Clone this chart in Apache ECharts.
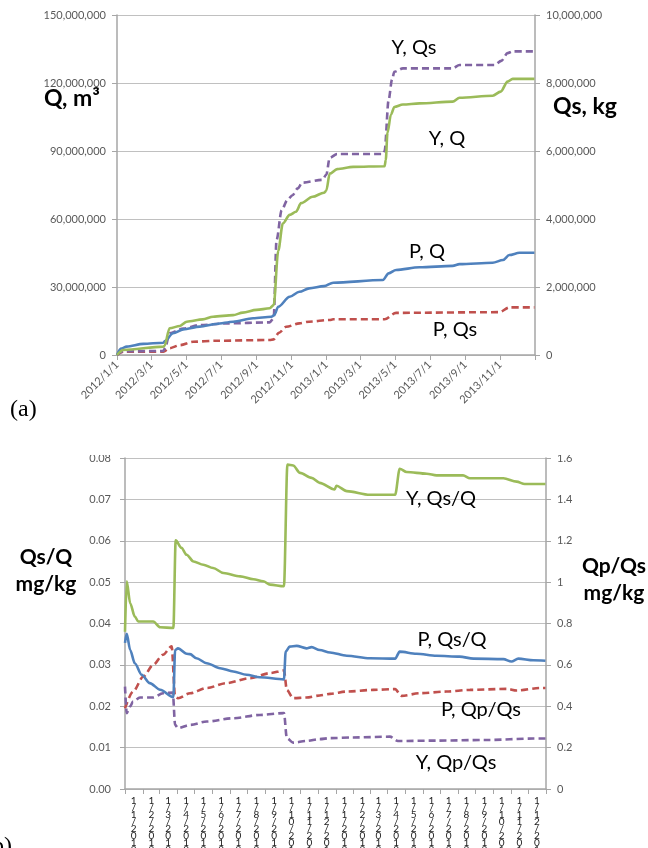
<!DOCTYPE html>
<html><head><meta charset="utf-8">
<script src="https://cdn.jsdelivr.net/npm/echarts@6/dist/echarts.min.js"></script>
<style>html,body{margin:0;padding:0;background:#fff}#c{width:648px;height:848px}</style>
</head><body><div id="c"></div>
<script>
// ---------- chart (a) data ----------
const topTickLabels = ['2012/1/1','2012/3/1','2012/5/1','2012/7/1','2012/9/1','2012/11/1','2013/1/1','2013/3/1','2013/5/1','2013/7/1','2013/9/1','2013/11/1'];
const topEndTick = '2014/1/1';

const yQ = [['2012-01-01',0],['2012-01-12',2.2e6],['2012-03-22',3.7e6],['2012-03-24',4.0e6],['2012-04-02',11.8e6],['2012-04-20',12.8e6],['2012-05-02',14.7e6],['2012-05-30',15.7e6],['2012-06-17',16.9e6],['2012-07-22',17.6e6],['2012-08-08',18.7e6],['2012-09-01',19.9e6],['2012-09-24',20.6e6],['2012-10-01',22e6],['2012-10-09',46e6],['2012-10-17',58e6],['2012-10-29',61.8e6],['2012-11-09',63.2e6],['2012-11-18',67e6],['2012-12-08',69.8e6],['2012-12-28',71.6e6],['2013-01-01',72.5e6],['2013-01-07',80e6],['2013-01-20',82e6],['2013-02-17',83e6],['2013-04-13',83.3e6],['2013-04-15',86e6],['2013-04-18',98e6],['2013-04-24',106e6],['2013-04-30',109.4e6],['2013-05-15',110.5e6],['2013-06-13',111e6],['2013-08-10',111.8e6],['2013-08-22',113.5e6],['2013-10-19',114.4e6],['2013-11-02',116.2e6],['2013-11-14',120.6e6],['2013-11-23',121.8e6],['2013-12-31',121.8e6]];

const pQ = [['2012-01-01',0],['2012-01-08',2.8e6],['2012-01-18',3.7e6],['2012-02-16',4.9e6],['2012-03-22',5.4e6],['2012-03-25',6.2e6],['2012-04-08',9.6e6],['2012-04-26',11.3e6],['2012-05-25',12.5e6],['2012-06-23',13.7e6],['2012-07-22',14.7e6],['2012-08-26',16.2e6],['2012-09-27',16.9e6],['2012-10-02',17.6e6],['2012-10-09',21.3e6],['2012-10-29',25.7e6],['2012-11-15',27.9e6],['2012-12-02',29.4e6],['2012-12-28',30.4e6],['2013-01-13',31.9e6],['2013-04-10',33.1e6],['2013-04-20',36e6],['2013-05-03',37.5e6],['2013-06-13',38.7e6],['2013-08-10',39.3e6],['2013-08-22',40.1e6],['2013-10-19',40.7e6],['2013-11-06',41.9e6],['2013-11-17',44.1e6],['2013-12-05',45.1e6],['2013-12-31',45.1e6]];

const yQs = [['2012-01-01',0],['2012-01-12',0.11e6],['2012-03-22',0.12e6],['2012-03-25',0.2e6],['2012-04-02',0.64e6],['2012-04-26',0.78e6],['2012-05-25',0.88e6],['2012-07-10',0.93e6],['2012-09-24',0.96e6],['2012-10-01',1.08e6],['2012-10-06',3.38e6],['2012-10-15',4.26e6],['2012-10-25',4.56e6],['2012-11-03',4.7e6],['2012-11-12',4.9e6],['2012-11-20',5.07e6],['2012-12-25',5.15e6],['2013-01-01',5.3e6],['2013-01-07',5.8e6],['2013-01-20',5.91e6],['2013-04-10',5.91e6],['2013-04-13',6.0e6],['2013-04-20',7.5e6],['2013-04-26',8.1e6],['2013-04-30',8.33e6],['2013-05-15',8.43e6],['2013-08-10',8.43e6],['2013-08-22',8.53e6],['2013-10-22',8.53e6],['2013-11-03',8.65e6],['2013-11-14',8.88e6],['2013-11-23',8.93e6],['2013-12-31',8.93e6]];

const pQs = [['2012-01-01',0],['2012-01-12',0.1e6],['2012-03-22',0.1e6],['2012-04-02',0.2e6],['2012-04-20',0.29e6],['2012-05-13',0.39e6],['2012-06-23',0.42e6],['2012-09-24',0.44e6],['2012-10-01',0.46e6],['2012-10-10',0.65e6],['2012-10-23',0.83e6],['2012-11-15',0.93e6],['2012-12-02',0.98e6],['2013-01-07',1.03e6],['2013-01-13',1.05e6],['2013-04-13',1.05e6],['2013-05-03',1.24e6],['2013-10-31',1.26e6],['2013-11-17',1.40e6],['2013-12-31',1.40e6]];

// ---------- chart (b) data ----------
const bottomMonthLabels = ['1/1/2012','1/2/2012','1/3/2012','1/4/2012','1/5/2012','1/6/2012','1/7/2012','1/8/2012','1/9/2012','1/10/2012','1/11/2012','1/12/2012','1/1/2013','1/2/2013','1/3/2013','1/4/2013','1/5/2013','1/6/2013','1/7/2013','1/8/2013','1/9/2013','1/10/2013','1/11/2013','1/12/2013'];

const yRatio = [['2012-01-01',0.038],['2012-01-04',0.0502],['2012-01-10',0.0449],['2012-01-18',0.0417],['2012-01-24',0.0405],['2012-02-19',0.0405],['2012-03-02',0.0391],['2012-03-25',0.0389],['2012-03-29',0.0601],['2012-04-08',0.0583],['2012-04-17',0.0566],['2012-04-29',0.055],['2012-05-16',0.0542],['2012-06-02',0.0534],['2012-06-20',0.0522],['2012-07-19',0.0514],['2012-08-11',0.0507],['2012-08-28',0.0502],['2012-09-09',0.0494],['2012-10-03',0.049],['2012-10-09',0.0784],['2012-10-19',0.0782],['2012-10-31',0.0764],['2012-11-20',0.0752],['2012-12-04',0.0740],['2012-12-30',0.0724],['2013-01-02',0.0733],['2013-01-20',0.0720],['2013-03-01',0.0711],['2013-04-14',0.0711],['2013-04-22',0.0774],['2013-05-04',0.0766],['2013-06-08',0.0762],['2013-06-25',0.0758],['2013-08-10',0.0758],['2013-08-22',0.0751],['2013-10-19',0.0751],['2013-11-11',0.0743],['2013-11-25',0.0737],['2013-12-31',0.0737]];

const pRatio = [['2012-01-01',0.0353],['2012-01-04',0.0375],['2012-01-10',0.0336],['2012-01-18',0.0304],['2012-01-30',0.0276],['2012-02-13',0.0256],['2012-03-02',0.024],['2012-03-25',0.0222],['2012-03-28',0.0336],['2012-04-02',0.034],['2012-04-17',0.0327],['2012-04-23',0.0326],['2012-05-04',0.0316],['2012-05-22',0.0304],['2012-06-14',0.0292],['2012-07-07',0.0284],['2012-07-30',0.0276],['2012-08-22',0.027],['2012-10-03',0.0265],['2012-10-06',0.0332],['2012-10-13',0.0344],['2012-10-25',0.0346],['2012-11-11',0.034],['2012-11-20',0.0343],['2012-12-04',0.0336],['2012-12-22',0.033],['2013-01-20',0.0322],['2013-03-01',0.0316],['2013-04-14',0.0315],['2013-04-22',0.0332],['2013-05-21',0.0327],['2013-06-25',0.0322],['2013-08-04',0.032],['2013-08-28',0.0315],['2013-10-19',0.0314],['2013-11-02',0.0308],['2013-11-14',0.0315],['2013-12-10',0.0311],['2013-12-31',0.031]];

const pQpQs = [['2012-01-01',0.39],['2012-01-15',0.471],['2012-02-02',0.544],['2012-02-19',0.60],['2012-03-07',0.649],['2012-03-22',0.69],['2012-03-28',0.447],['2012-04-02',0.439],['2012-04-23',0.463],['2012-05-22',0.488],['2012-06-25',0.512],['2012-08-05',0.536],['2012-09-09',0.56],['2012-10-03',0.573],['2012-10-08',0.479],['2012-10-19',0.439],['2012-11-11',0.442],['2012-12-04',0.452],['2012-12-22',0.46],['2013-01-20',0.471],['2013-03-07',0.479],['2013-04-14',0.483],['2013-04-25',0.45],['2013-05-27',0.463],['2013-07-12',0.471],['2013-08-22',0.479],['2013-10-25',0.484],['2013-11-11',0.476],['2013-12-21',0.488],['2013-12-31',0.488]];

const yQpQs = [['2012-01-01',0.495],['2012-01-04',0.367],['2012-01-10',0.399],['2012-01-15',0.423],['2012-01-27',0.442],['2012-02-19',0.442],['2012-03-07',0.463],['2012-03-24',0.466],['2012-03-28',0.31],['2012-04-02',0.294],['2012-04-23',0.31],['2012-05-22',0.326],['2012-07-07',0.342],['2012-08-22',0.358],['2012-10-03',0.367],['2012-10-08',0.246],['2012-10-19',0.224],['2012-11-11',0.232],['2012-12-04',0.241],['2012-12-22',0.246],['2013-01-31',0.249],['2013-04-05',0.253],['2013-04-19',0.232],['2013-06-25',0.234],['2013-09-20',0.237],['2013-12-10',0.244],['2013-12-31',0.244]];

// ---------- helpers ----------
function ts(str){const p=str.split(/[\/-]/).map(Number);return Date.UTC(p[0],p[1]-1,p[2]);}
function toXY(arr){return arr.map(p=>[ts(p[0]),p[1]]);}
const topTickTs = topTickLabels.map(ts).concat([ts(topEndTick)]);
const topLabelTs = topTickLabels.map(ts);
const bottomTickTs = [], bottomLabelTs = [];
for (let i=0;i<=24;i++){ bottomTickTs.push(Date.UTC(2012, i, 1)); }
for (let i=0;i<24;i++){ bottomLabelTs.push(Date.UTC(2012, i, 16)); }

const GREEN='#9bbb59', BLUE='#4f81bd', RED='#c0504d', PURPLE='#8064a2';
const AX='#a6a6a6', GRID='#c0c0c0', LBL='#595959';
const FONT='Lato';
const dash=[7,4];

function fmtComma(v){return Math.round(v).toLocaleString('en-US');}
function line(name,data,color,xi,yi,dashed){
  return {name,type:'line',data:toXY(data),xAxisIndex:xi,yAxisIndex:yi,showSymbol:false,symbol:'none',
    smooth:0.3,smoothMonotone:'x',
    lineStyle:{color,width:2.6,type:dashed?dash:'solid',cap:'butt'},z:3};
}

const chart = echarts.init(document.getElementById('c'),null,{renderer:'canvas'});
const option = {
  animation:false,
  backgroundColor:'#fff',
  textStyle:{fontFamily:FONT},
  grid:[
    {left:117,right:113,top:15,height:340,outerBoundsMode:'none',containLabel:false},
    {left:125,right:102,top:458,height:331,outerBoundsMode:'none',containLabel:false}
  ],
  xAxis:[
    {type:'value',gridIndex:0,min:ts('2012/1/1'),max:ts(topEndTick),
      axisLine:{lineStyle:{color:AX,width:1.5}},
      axisTick:{show:true,customValues:topTickTs,length:5,lineStyle:{color:AX}},
      axisLabel:{customValues:topLabelTs,rotate:45,fontSize:11,color:LBL,fontFamily:FONT,margin:8,
        formatter:function(v){const i=topLabelTs.indexOf(v);return i>=0?topTickLabels[i]:'';}},
      splitLine:{show:false}},
    {type:'value',gridIndex:1,min:Date.UTC(2012,0,1),max:Date.UTC(2014,0,1),
      axisLine:{lineStyle:{color:AX,width:1.5}},
      axisTick:{show:true,customValues:bottomTickTs,length:5,lineStyle:{color:AX}},
      axisLabel:{customValues:bottomLabelTs,fontSize:10,lineHeight:7,color:'#222',fontFamily:FONT,margin:8,verticalAlign:'top',
        formatter:function(v){const i=bottomLabelTs.indexOf(v);return i>=0?bottomMonthLabels[i].split('').join('\n'):'';}},
      splitLine:{show:false}}
  ],
  yAxis:[
    {type:'value',gridIndex:0,min:0,max:150e6,interval:30e6,
      axisLine:{show:true,lineStyle:{color:AX,width:1.5}},
      axisTick:{show:true,length:5,lineStyle:{color:AX}},
      axisLabel:{formatter:fmtComma,fontSize:11,color:LBL,fontFamily:FONT,margin:11},
      splitLine:{show:true,lineStyle:{color:GRID,width:1.2}}},
    {type:'value',gridIndex:0,min:0,max:10e6,interval:2e6,position:'right',
      axisLine:{show:true,lineStyle:{color:AX,width:1.5}},
      axisTick:{show:true,length:5,lineStyle:{color:AX}},
      axisLabel:{formatter:fmtComma,fontSize:11,color:LBL,fontFamily:FONT,margin:11},
      splitLine:{show:false}},
    {type:'value',gridIndex:1,min:0,max:0.08,interval:0.01,
      axisLine:{show:true,lineStyle:{color:AX,width:1.5}},
      axisTick:{show:true,length:5,lineStyle:{color:AX}},
      axisLabel:{formatter:v=>v.toFixed(2),fontSize:11,color:LBL,fontFamily:FONT,margin:14},
      splitLine:{show:true,lineStyle:{color:GRID,width:1.2}}},
    {type:'value',gridIndex:1,min:0,max:1.6,interval:0.2,position:'right',
      axisLine:{show:true,lineStyle:{color:AX,width:1.5}},
      axisTick:{show:true,length:5,lineStyle:{color:AX}},
      axisLabel:{formatter:v=>String(Math.round(v*10)/10),fontSize:11,color:LBL,fontFamily:FONT,margin:11},
      splitLine:{show:false}}
  ],
  series:[
    line('P, Qs',pQs,RED,0,1,true),
    line('Y, Qs',yQs,PURPLE,0,1,true),
    line('P, Q',pQ,BLUE,0,0,false),
    line('Y, Q',yQ,GREEN,0,0,false),
    line('P, Qp/Qs',pQpQs,RED,1,3,true),
    line('Y, Qp/Qs',yQpQs,PURPLE,1,3,true),
    line('P, Qs/Q',pRatio,BLUE,1,2,false),
    line('Y, Qs/Q',yRatio,GREEN,1,2,false)
  ],
  graphic:[
    {type:'rect',shape:{x:60,y:430,width:590,height:25},style:{fill:'#fff'},z:100},
    {type:'text',x:72,y:99,style:{text:'Q, m³',font:'bold 23px '+FONT,fill:'#000',textAlign:'center',textVerticalAlign:'middle'},z:101},
    {type:'text',x:585,y:107,style:{text:'Qs, kg',font:'bold 23px '+FONT,fill:'#000',textAlign:'center',textVerticalAlign:'middle'},z:101},
    {type:'text',x:10,y:410,style:{text:'(a)',font:'24px "Liberation Serif"',fill:'#000',textAlign:'left',textVerticalAlign:'middle'},z:101},
    {type:'text',x:-16,y:847,style:{text:'(b)',font:'24px "Liberation Serif"',fill:'#000',textAlign:'left',textVerticalAlign:'middle'},z:101},
    {type:'text',x:46,y:557,style:{text:'Qs/Q',font:'bold 21px '+FONT,fill:'#000',textAlign:'center',textVerticalAlign:'middle'},z:101},
    {type:'text',x:46,y:584,style:{text:'mg/kg',font:'bold 21px '+FONT,fill:'#000',textAlign:'center',textVerticalAlign:'middle'},z:101},
    {type:'text',x:614,y:566,style:{text:'Qp/Qs',font:'bold 21px '+FONT,fill:'#000',textAlign:'center',textVerticalAlign:'middle'},z:101},
    {type:'text',x:614,y:593,style:{text:'mg/kg',font:'bold 21px '+FONT,fill:'#000',textAlign:'center',textVerticalAlign:'middle'},z:101},
    {type:'text',x:414,y:48,style:{text:'Y, Qs',font:'20px '+FONT,fill:'#000',textAlign:'center',textVerticalAlign:'middle'},z:101},
    {type:'text',x:447,y:139,style:{text:'Y, Q',font:'20px '+FONT,fill:'#000',textAlign:'center',textVerticalAlign:'middle'},z:101},
    {type:'text',x:427,y:252,style:{text:'P, Q',font:'20px '+FONT,fill:'#000',textAlign:'center',textVerticalAlign:'middle'},z:101},
    {type:'text',x:455,y:330,style:{text:'P, Qs',font:'20px '+FONT,fill:'#000',textAlign:'center',textVerticalAlign:'middle'},z:101},
    {type:'text',x:441,y:499,style:{text:'Y, Qs/Q',font:'20px '+FONT,fill:'#000',textAlign:'center',textVerticalAlign:'middle'},z:101},
    {type:'text',x:452,y:640,style:{text:'P, Qs/Q',font:'20px '+FONT,fill:'#000',textAlign:'center',textVerticalAlign:'middle'},z:101},
    {type:'text',x:481,y:710,style:{text:'P, Qp/Qs',font:'20px '+FONT,fill:'#000',textAlign:'center',textVerticalAlign:'middle'},z:101},
    {type:'text',x:456,y:763,style:{text:'Y, Qp/Qs',font:'20px '+FONT,fill:'#000',textAlign:'center',textVerticalAlign:'middle'},z:101}
  ]
};
chart.setOption(option);
</script></body></html>
